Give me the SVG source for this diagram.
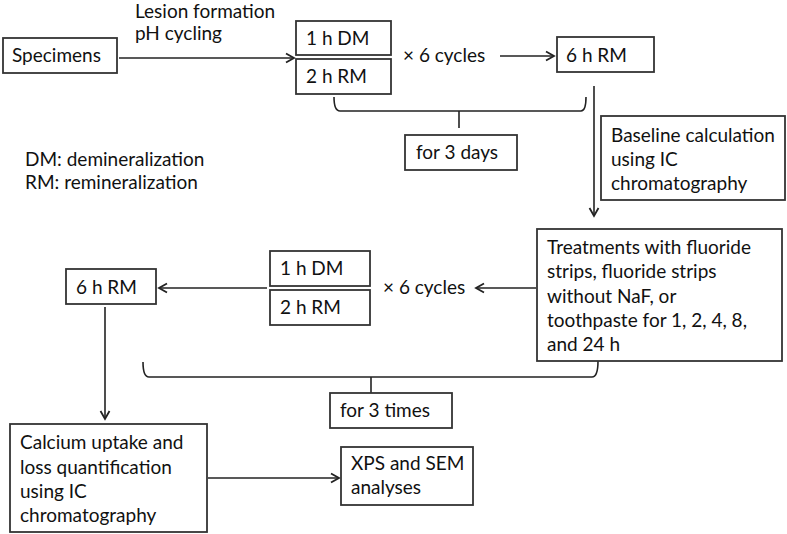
<svg xmlns="http://www.w3.org/2000/svg" width="787" height="534" viewBox="0 0 787 534">
<defs>
<marker id="ah" markerWidth="12" markerHeight="12" refX="10" refY="6" orient="auto" markerUnits="userSpaceOnUse">
<path d="M2,1.5 L10,6 L2,10.5" fill="none" stroke="#222" stroke-width="1.8"/>
</marker>
</defs>
<style>
.b{fill:#fff;stroke:#333;stroke-width:1.8}
.t{font-family:Lato,"Open Sans","Liberation Sans",sans-serif;font-size:19px;fill:#111}
.c{fill:none;stroke:#222;stroke-width:1.6}
.a{fill:none;stroke:#222;stroke-width:1.6;marker-end:url(#ah)}
</style>
<rect width="787" height="534" fill="#fff"/>
<g id="connectors">
<line class="a" x1="119" y1="58" x2="294" y2="58"/>
<line class="a" x1="500" y1="56" x2="554" y2="56"/>
<path class="c" d="M334,97 Q334,111 340,111 L581,111 Q586,111 586,97"/>
<line class="c" x1="459" y1="111" x2="459" y2="128"/>
<line class="a" x1="594" y1="86" x2="594" y2="216"/>
<line class="a" x1="536" y1="288" x2="476" y2="288"/>
<line class="a" x1="267" y1="288" x2="159" y2="288"/>
<line class="a" x1="105" y1="307" x2="105" y2="419"/>
<path class="c" d="M143,362 Q143,377 149,377 L592,377 Q598,377 598,361"/>
<line class="c" x1="371" y1="377" x2="371" y2="393"/>
<line class="a" x1="208" y1="478" x2="339" y2="478"/>
</g>
<g id="labels">
<text class="t" x="135" y="18">Lesion formation</text>
<text class="t" x="135" y="40">pH cycling</text>
<text class="t" x="403" y="62">× 6 cycles</text>
<text class="t" x="25" y="166">DM: demineralization</text>
<text class="t" x="25" y="189">RM: remineralization</text>
<text class="t" x="383" y="294">× 6 cycles</text>
</g>
<g id="specimens"><rect class="b" x="3" y="38" width="114" height="35"/><text class="t" x="12" y="62">Specimens</text></g>
<g id="dm1"><rect class="b" x="296" y="21" width="95" height="34"/><text class="t" x="306" y="45">1 h DM</text></g>
<g id="rm1"><rect class="b" x="296" y="59" width="95" height="35"/><text class="t" x="306" y="83">2 h RM</text></g>
<g id="rm6a"><rect class="b" x="557" y="37" width="97" height="35"/><text class="t" x="566" y="62">6 h RM</text></g>
<g id="days"><rect class="b" x="405" y="135" width="112" height="35"/><text class="t" x="416" y="159">for 3 days</text></g>
<g id="baseline"><rect class="b" x="601" y="116" width="184" height="84"/>
<text class="t" x="611" y="142">Baseline calculation</text>
<text class="t" x="611" y="166">using IC</text>
<text class="t" x="611" y="190">chromatography</text></g>
<g id="treatments"><rect class="b" x="537" y="229" width="245" height="132"/>
<text class="t" x="547" y="254">Treatments with fluoride</text>
<text class="t" x="547" y="278">strips, fluoride strips</text>
<text class="t" x="547" y="303">without NaF, or</text>
<text class="t" x="547" y="327">toothpaste for 1, 2, 4, 8,</text>
<text class="t" x="547" y="351">and 24 h</text></g>
<g id="dm2"><rect class="b" x="270" y="251" width="100" height="35"/><text class="t" x="280" y="275">1 h DM</text></g>
<g id="rm2"><rect class="b" x="270" y="290" width="100" height="35"/><text class="t" x="280" y="314">2 h RM</text></g>
<g id="rm6b"><rect class="b" x="66" y="269" width="90" height="35"/><text class="t" x="76" y="294">6 h RM</text></g>
<g id="times"><rect class="b" x="330" y="393" width="122" height="35"/><text class="t" x="340" y="417">for 3 times</text></g>
<g id="calcium"><rect class="b" x="10" y="424" width="197" height="108"/>
<text class="t" x="20" y="449">Calcium uptake and</text>
<text class="t" x="20" y="474">loss quantification</text>
<text class="t" x="20" y="498">using IC</text>
<text class="t" x="20" y="522">chromatography</text></g>
<g id="xps"><rect class="b" x="341" y="447" width="132" height="58"/>
<text class="t" x="351" y="470">XPS and SEM</text>
<text class="t" x="351" y="494">analyses</text></g>
</svg>
